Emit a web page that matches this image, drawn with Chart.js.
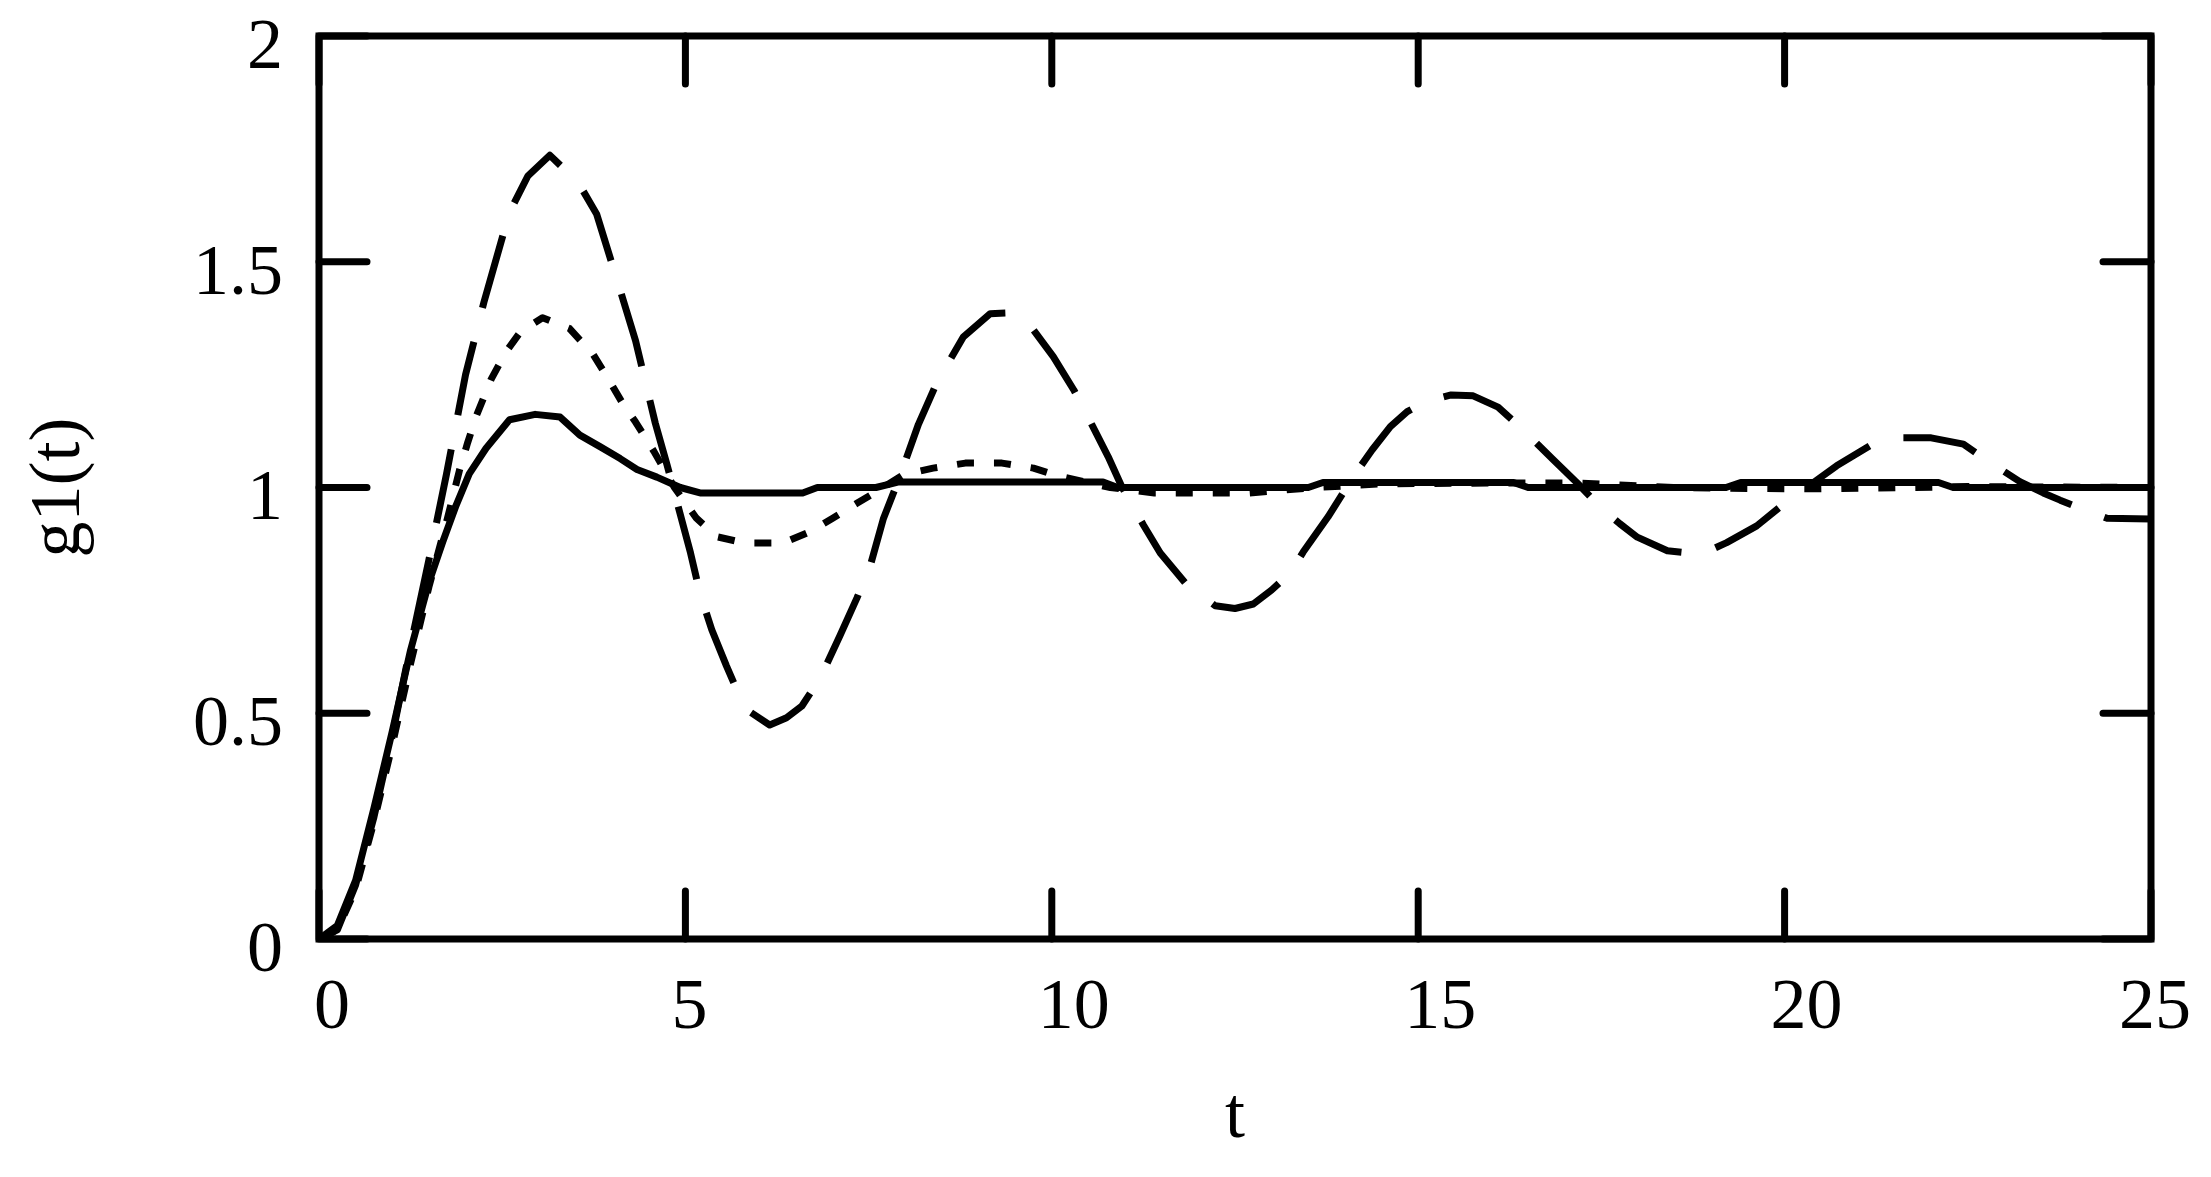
<!DOCTYPE html>
<html>

<head>
  <title>g1(t)</title>
  <script src="https://cdn.jsdelivr.net/npm/chart.js"></script>
  <style>
    body { margin: 0; background: #fff; }
  </style>
</head>

<body>
  <canvas id="stepChart" width="2211" height="1177"></canvas>
  <script>
    // solid curve (least overshoot)
    var tSolid = [0, 0.25, 0.5, 0.75, 1.0, 1.25, 1.5, 1.69, 1.87, 2.05, 2.28, 2.6, 2.95, 3.29, 3.56, 3.84, 4.11, 4.34,
      4.61, 4.93, 5.2, 6.6, 6.8, 7.6, 7.9, 10.7, 10.9, 13.5, 13.7, 16.3, 16.5, 19.2, 19.4, 22.1, 22.3, 25];
    var gSolid = [0, 0.03, 0.13, 0.29, 0.46, 0.64, 0.79, 0.88, 0.96, 1.03, 1.087, 1.15, 1.162, 1.156, 1.116, 1.09, 1.064, 1.04,
      1.023, 1.0, 0.988, 0.988, 1.0, 1.0, 1.012, 1.012, 1.0, 1.0, 1.011, 1.011, 1.0, 1.0, 1.011, 1.011, 1.0, 1.0];

    // short dashes
    var tDot = [0, 0.25, 0.5, 0.75, 1.0, 1.25, 1.5, 1.75, 1.92, 2.03, 2.15, 2.35, 2.55, 2.75, 3.05, 3.42, 3.74, 3.95, 4.13,
      4.32, 4.57, 4.85, 5.15, 5.43, 5.81, 6.33, 6.7, 7.01, 7.34, 7.6, 7.97, 8.38, 8.82, 9.32, 9.75, 10.1, 10.8, 11.4, 12.7,
      13.6, 14.5, 16, 17.2, 18.5, 19.5, 20.5, 22.5, 25];
    var gDot = [0, 0.02, 0.11, 0.26, 0.43, 0.61, 0.78, 0.93, 1.04, 1.1, 1.16, 1.24, 1.3, 1.345, 1.376, 1.352, 1.295, 1.24, 1.19,
      1.145, 1.08, 1.0, 0.932, 0.891, 0.877, 0.877, 0.902, 0.932, 0.965, 0.99, 1.028, 1.043, 1.054, 1.054, 1.043, 1.025, 1.0, 0.988, 0.988,
      1.0, 1.008, 1.01, 1.01, 1.0, 0.998, 0.997, 1.002, 1.0];

    // long dashes (largest overshoot)
    var tDash = [0, 0.25, 0.5, 0.75, 1.0, 1.25, 1.5, 1.74, 2.0, 2.25, 2.6, 2.85, 3.15, 3.54, 3.79, 4.15, 4.32, 4.59, 4.75,
      4.89, 5.07, 5.2, 5.36, 5.56, 5.72, 5.88, 6.15, 6.38, 6.59, 6.84, 7.11, 7.34, 7.52, 7.7, 7.93, 8.18, 8.43, 8.79, 9.16,
      9.48, 9.75, 10.02, 10.3, 10.55, 10.77, 10.96, 11.25, 11.48, 11.84, 12.23, 12.5, 12.75, 13.0, 13.25, 13.43, 13.77, 14.11,
      14.37, 14.62, 14.85, 15.1, 15.45, 15.75, 16.09, 16.35, 16.57, 16.84, 17.17, 17.48, 17.75, 17.99, 18.4, 18.7, 18.94,
      19.21, 19.62, 19.94, 20.3, 20.71, 21.17, 21.6, 22.0, 22.44, 22.78, 23.21, 23.53, 23.76, 24.21, 24.4, 25];
    var gDash = [0, 0.02, 0.12, 0.27, 0.45, 0.65, 0.84, 1.03, 1.25, 1.41, 1.61, 1.69, 1.736, 1.675, 1.605, 1.416, 1.325, 1.142, 1.05,
      0.965, 0.855, 0.765, 0.685, 0.605, 0.545, 0.503, 0.474, 0.49, 0.516, 0.578, 0.672, 0.755, 0.825, 0.93, 1.026, 1.14, 1.232, 1.333, 1.385,
      1.387, 1.349, 1.29, 1.216, 1.138, 1.068, 1.0, 0.917, 0.855, 0.785, 0.738, 0.732, 0.742, 0.773, 0.81, 0.857, 0.935, 1.023,
      1.083, 1.135, 1.168, 1.19, 1.205, 1.203, 1.178, 1.14, 1.105, 1.062, 1.01, 0.957, 0.92, 0.89, 0.86, 0.855, 0.858,
      0.878, 0.915, 0.957, 1.0, 1.048, 1.093, 1.11, 1.11, 1.096, 1.058, 1.013, 0.988, 0.972, 0.943, 0.932, 0.93];

    var xTicks = [0, 5, 10, 15, 20, 25];
    var yTicks = [0, 0.5, 1, 1.5, 2];

    function toPoints(ts, gs) {
      return ts.map((t, i) => ({ x: t, y: gs[i] }));
    }

    var serif = 'Liberation Serif';
    // trailing spaces nudge some x labels left, like the original layout
    var xLabelPad = { 0: ' ', 5: '  ', 25: '  ' };

    // box around the plot with inward tick marks on every side
    var framePlugin = {
      id: 'frame',
      afterDatasetsDraw(chart) {
        var a = chart.chartArea;
        var ctx = chart.ctx;
        var xs = chart.scales.x, ys = chart.scales.y;
        var len = 48;
        ctx.save();
        ctx.strokeStyle = '#000';
        ctx.lineWidth = 7;
        ctx.lineCap = 'round';
        ctx.beginPath();
        xTicks.forEach(v => {
          var px = xs.getPixelForValue(v);
          ctx.moveTo(px, a.bottom); ctx.lineTo(px, a.bottom - len);
          ctx.moveTo(px, a.top); ctx.lineTo(px, a.top + len);
        });
        yTicks.forEach(v => {
          var py = ys.getPixelForValue(v);
          ctx.moveTo(a.left, py); ctx.lineTo(a.left + len, py);
          ctx.moveTo(a.right, py); ctx.lineTo(a.right - len, py);
        });
        ctx.stroke();
        ctx.lineCap = 'butt';
        ctx.lineJoin = 'miter';
        ctx.strokeRect(a.left, a.top, a.width, a.height);
        ctx.restore();
      }
    };

    var ctx = document.getElementById('stepChart').getContext('2d');
    var chart = new Chart(ctx, {
      type: 'scatter',
      data: {
        datasets: [{
          label: 'solid',
          data: toPoints(tSolid, gSolid),
          borderColor: '#000',
          borderWidth: 7
        }, {
          label: 'short dash',
          data: toPoints(tDot, gDot),
          borderColor: '#000',
          borderWidth: 7,
          borderDash: [17, 20]
        }, {
          label: 'long dash',
          data: toPoints(tDash, gDash),
          borderColor: '#000',
          borderWidth: 7,
          borderDash: [75, 35]
        }]
      },
      options: {
        responsive: false,
        animation: false,
        devicePixelRatio: 1,
        showLine: true,
        elements: {
          point: { radius: 0, hoverRadius: 0 },
          line: { tension: 0, borderCapStyle: 'butt', borderJoinStyle: 'round' }
        },
        layout: { padding: { left: 0, top: 36, right: 60, bottom: 0 } },
        plugins: {
          legend: { display: false },
          tooltip: { enabled: false }
        },
        scales: {
          x: {
            type: 'linear',
            min: 0,
            max: 25,
            afterFit: function (scale) {
              scale.height = 1177 - 939;
              scale.paddingLeft = 0;
              scale.paddingRight = 0;
            },
            grid: { display: false, drawTicks: false },
            border: { display: false },
            ticks: {
              stepSize: 5,
              padding: 27,
              labelOffset: 22,
              color: '#000',
              maxRotation: 0,
              autoSkip: false,
              font: { family: serif, size: 72 },
              callback: function (value) {
                return String(value) + (xLabelPad[value] || '');
              }
            },
            title: {
              display: true,
              text: 't',
              color: '#000',
              padding: { top: 0, bottom: 16 },
              font: { family: serif, size: 72 }
            }
          },
          y: {
            min: 0,
            max: 2,
            afterFit: function (scale) {
              scale.width = 319;
              scale.paddingTop = 0;
              scale.paddingBottom = 0;
            },
            grid: { display: false, drawTicks: false },
            border: { display: false },
            ticks: {
              stepSize: 0.5,
              padding: 36,
              labelOffset: 13,
              color: '#000',
              font: { family: serif, size: 72 },
              callback: function (value) {
                return String(value);
              }
            },
            title: {
              display: true,
              text: 'g1(t)',
              color: '#000',
              padding: { top: 17, bottom: 0 },
              font: { family: serif, size: 72 }
            }
          }
        }
      },
      plugins: [framePlugin]
    });
  </script>
</body>

</html>
